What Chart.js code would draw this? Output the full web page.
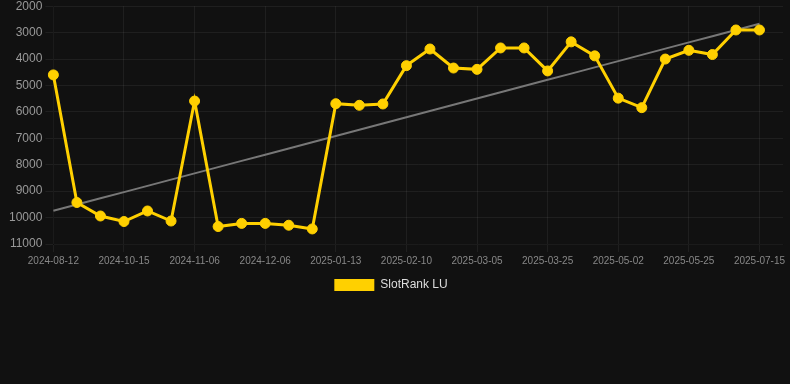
<!DOCTYPE html>
<html>
<head>
<meta charset="utf-8">
<script src="https://cdn.jsdelivr.net/npm/chart.js@4"></script>
<style>
  html, body { margin: 0; padding: 0; background: #111111; overflow: hidden; }
  #wrap { width: 790px; height: 305px; margin-top: -4px; }
</style>
</head>
<body>
<div id="wrap"><canvas id="chart"></canvas></div>
<script>
// dates on the x axis (only every third one is printed)
const dates = [
  '2024-08-12', '2024-08-26', '2024-09-23', '2024-10-15', '2024-10-22', '2024-10-29',
  '2024-11-06', '2024-11-14', '2024-11-25', '2024-12-06', '2024-12-16', '2024-12-30',
  '2025-01-13', '2025-01-22', '2025-02-01', '2025-02-10', '2025-02-18', '2025-02-25',
  '2025-03-05', '2025-03-12', '2025-03-18', '2025-03-25', '2025-04-08', '2025-04-20',
  '2025-05-02', '2025-05-10', '2025-05-17', '2025-05-25', '2025-06-10', '2025-06-28',
  '2025-07-15', '2025-07-22'
];

// rank values
const rankLU = [
  4600, 9430, 9940, 10150, 9750, 10130,
  5590, 10340, 10220, 10220, 10290, 10430,
  5690, 5750, 5700, 4250, 3620, 4340,
  4390, 3580, 3580, 4450, 3350, 3880,
  5480, 5840, 4000, 3670, 3830, 2900,
  2900, null
];

const yTicks = [2000, 3000, 4000, 5000, 6000, 7000, 8000, 9000, 10000, 11000];

const FONT = 'Liberation Sans, Arial, sans-serif';

// least squares trend over the known points
function trendLine(values) {
  const pts = values.map((v, i) => [i, v]).filter(p => p[1] !== null);
  const n = pts.length;
  const sx = pts.reduce((a, p) => a + p[0], 0);
  const sy = pts.reduce((a, p) => a + p[1], 0);
  const sxy = pts.reduce((a, p) => a + p[0] * p[1], 0);
  const sxx = pts.reduce((a, p) => a + p[0] * p[0], 0);
  const slope = (n * sxy - sx * sy) / (n * sxx - sx * sx);
  const icpt = (sy - slope * sx) / n;
  const first = pts[0][0], last = pts[n - 1][0];
  return values.map((v, i) => (i >= first && i <= last) ? icpt + slope * i : null);
}

const trend = trendLine(rankLU);

// nudge the legend a little to the left, like the original page
const legendShift = {
  id: 'legendShift',
  afterLayout(chart) {
    const lg = chart.legend;
    if (lg) { lg.left -= 12; lg.right -= 12; }
  }
};

new Chart(document.getElementById('chart'), {
  type: 'line',
  data: {
    labels: dates,
    datasets: [
      {
        label: 'SlotRank LU',
        data: rankLU,
        borderColor: '#ffd000',
        backgroundColor: '#ffd000',
        borderWidth: 3,
        pointRadius: 5,
        pointBorderWidth: 1,
        pointHoverRadius: 6,
        tension: 0
      },
      {
        label: 'trend',
        data: trend,
        borderColor: '#777777',
        borderWidth: 2,
        pointRadius: 0,
        tension: 0
      }
    ]
  },
  plugins: [legendShift],
  options: {
    responsive: true,
    maintainAspectRatio: false,
    animation: false,
    layout: { padding: { left: 6, right: -10 } },
    plugins: {
      legend: {
        position: 'bottom',
        labels: {
          color: '#dddddd',
          padding: 9,
          font: { family: FONT, size: 12 },
          generateLabels: chart =>
            Chart.defaults.plugins.legend.labels.generateLabels(chart)
              .filter(item => item.text !== 'trend')
              .map(item => Object.assign(item, { lineWidth: 0 }))
        }
      },
      tooltip: { enabled: false }
    },
    scales: {
      x: {
        offset: false,
        grid: { color: 'rgba(255,255,255,0.06)' },
        ticks: {
          autoSkip: false,
          maxRotation: 0,
          color: '#888888',
          font: { family: FONT, size: 10 },
          callback: function (val, i) {
            return (i % 3 === 0 && i < 31) ? this.getLabelForValue(val) : null;
          }
        }
      },
      y: {
        reverse: true,
        min: yTicks[0],
        max: yTicks[yTicks.length - 1],
        grid: { color: 'rgba(255,255,255,0.06)' },
        afterBuildTicks: axis => { axis.ticks = yTicks.map(v => ({ value: v })); },
        ticks: {
          color: '#999999',
          font: { family: FONT, size: 12 },
          callback: v => String(v)
        }
      }
    }
  }
});
</script>
</body>
</html>
